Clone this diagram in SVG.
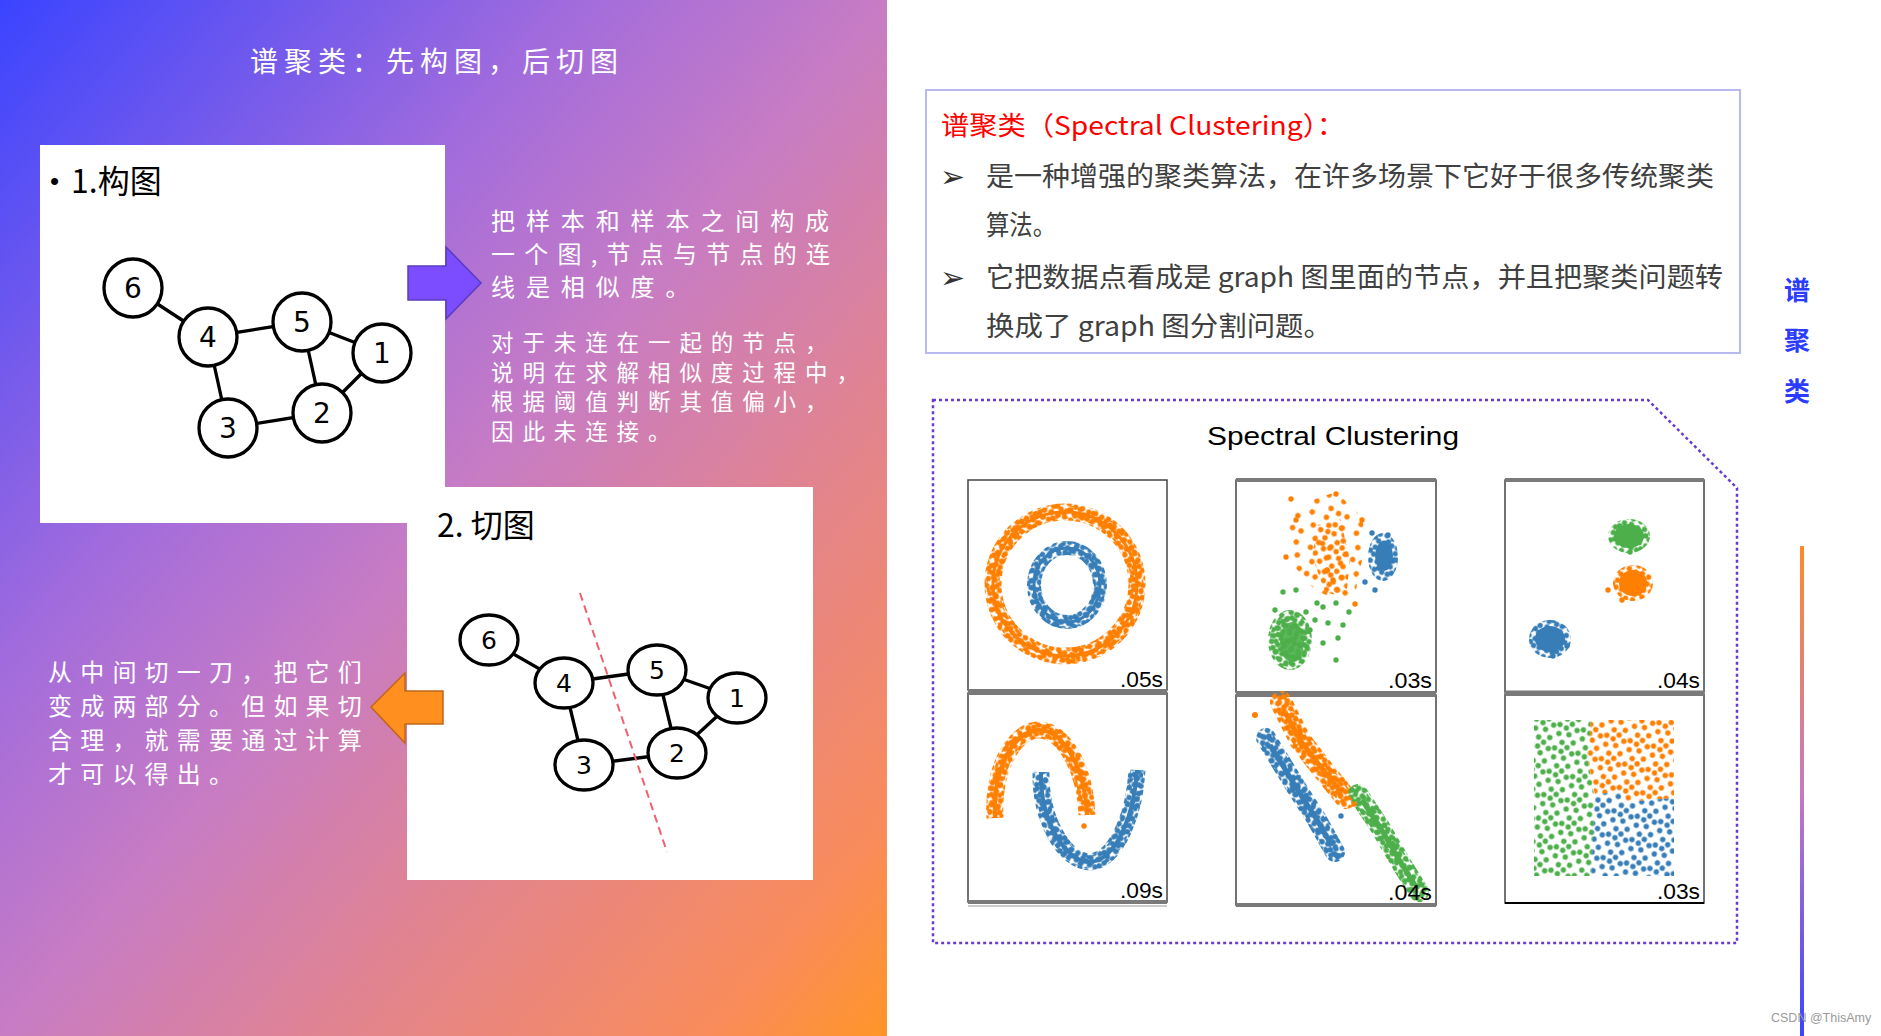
<svg xmlns="http://www.w3.org/2000/svg" width="1881" height="1036" viewBox="0 0 1881 1036">
<defs>
<style>
.cjk{font-family:'Noto Sans CJK SC',sans-serif}
.wt{fill:#fff;font-family:'Noto Sans CJK SC',sans-serif;font-size:24px}
.edge{stroke:#000;stroke-width:3.3;fill:none}
.nc{fill:#fff;stroke:#000;stroke-width:3.3}
.nt{font-family:'DejaVu Sans',sans-serif;text-anchor:middle;fill:#000}
.rt{font-family:'Noto Sans CJK SC',sans-serif;font-size:27px;fill:#404040}
.pb{fill:#fff;stroke:#444;stroke-width:1.5}
.gl{stroke:#7a7a7a;stroke-width:4}
.tm{font-family:'Liberation Sans',sans-serif;font-size:22px;fill:#000}
.o{fill:#ff7f00}.b{fill:#377eb8}.g{fill:#4daf4a}
.so{stroke:#ff7f00;fill:none}.sb{stroke:#377eb8;fill:none}.sg{stroke:#4daf4a;fill:none}
</style>
<linearGradient id="bg" x1="0" y1="0" x2="1" y2="1">
<stop offset="0" stop-color="#3a44ff"/>
<stop offset="0.33" stop-color="#a36cdc"/>
<stop offset="0.5" stop-color="#c77cc4"/>
<stop offset="0.7" stop-color="#e3848c"/>
<stop offset="0.9" stop-color="#f98c5a"/>
<stop offset="1" stop-color="#ff9528"/>
</linearGradient>
<linearGradient id="vl" x1="0" y1="0" x2="0" y2="1">
<stop offset="0" stop-color="#ff8a2a"/>
<stop offset="0.5" stop-color="#c57ac0"/>
<stop offset="1" stop-color="#3a44ff"/>
</linearGradient>
<pattern id="pD" width="14" height="14" patternUnits="userSpaceOnUse" patternTransform="rotate(21)">
<g fill="#fff"><circle cx="3" cy="3" r="2.7"/><circle cx="10" cy="4" r="2.7"/><circle cx="6.5" cy="8.5" r="2.7"/><circle cx="3" cy="11" r="2.7"/><circle cx="11" cy="11" r="2.7"/></g>
</pattern>
<pattern id="pD2" width="17" height="17" patternUnits="userSpaceOnUse" patternTransform="rotate(-37)">
<g fill="#fff"><circle cx="4" cy="5" r="2.7"/><circle cx="12" cy="3" r="2.7"/><circle cx="8.5" cy="11" r="2.7"/><circle cx="14" cy="13" r="2.7"/><circle cx="3" cy="14" r="2.7"/></g>
</pattern>
<pattern id="pM" width="24" height="24" patternUnits="userSpaceOnUse" patternTransform="rotate(13)">
<g fill="#fff"><circle cx="4" cy="4" r="2.7"/><circle cx="14" cy="3" r="2.7"/><circle cx="20" cy="10" r="2.7"/><circle cx="9" cy="12" r="2.7"/><circle cx="3" cy="19" r="2.7"/><circle cx="15" cy="16" r="2.7"/><circle cx="21" cy="21" r="2.7"/><circle cx="10" cy="21" r="2.7"/></g>
</pattern>
<pattern id="pS" width="34" height="34" patternUnits="userSpaceOnUse" patternTransform="rotate(28)">
<g fill="#fff"><circle cx="5" cy="6" r="2.7"/><circle cx="20" cy="4" r="2.7"/><circle cx="28" cy="16" r="2.7"/><circle cx="12" cy="17" r="2.7"/><circle cx="4" cy="28" r="2.7"/><circle cx="20" cy="28" r="2.7"/><circle cx="29" cy="29" r="2.7"/></g>
</pattern>
<mask id="mD" maskUnits="userSpaceOnUse" x="0" y="0" width="1881" height="1036"><rect width="1881" height="1036" fill="url(#pD)"/></mask>
<mask id="mD2" maskUnits="userSpaceOnUse" x="0" y="0" width="1881" height="1036"><rect width="1881" height="1036" fill="url(#pD2)"/></mask>
<mask id="mM" maskUnits="userSpaceOnUse" x="0" y="0" width="1881" height="1036"><rect width="1881" height="1036" fill="url(#pM)"/></mask>
<mask id="mS" maskUnits="userSpaceOnUse" x="0" y="0" width="1881" height="1036"><rect width="1881" height="1036" fill="url(#pS)"/></mask>
</defs>

<!-- backgrounds -->
<rect width="1881" height="1036" fill="#fff"/>
<rect x="0" y="0" width="887" height="1036" fill="url(#bg)"/>

<g id="title">
<text class="wt" x="250" y="72" style="font-size:28px" letter-spacing="6">谱聚类：先构图，后切图</text>
</g>

<!-- box 1 -->
<g id="box1">
<rect x="40" y="145" width="405" height="378" fill="#fff"/>
<text x="50" y="190" font-family="'Liberation Sans',sans-serif" font-size="26" fill="#000">•</text>
<text class="cjk" x="71" y="193" font-size="32" fill="#000">1.构图</text>
</g>

<!-- box 2 -->
<g id="box2">
<rect x="407" y="487" width="406" height="393" fill="#fff"/>
<text class="cjk" x="437" y="537" font-size="32" fill="#000">2. 切图</text>
</g>

<!-- connectors -->
<g id="connectors">
<g id="edges1">
<line class="edge" x1="133" y1="288" x2="208" y2="337"/>
<line class="edge" x1="208" y1="337" x2="302" y2="322"/>
<line class="edge" x1="302" y1="322" x2="382" y2="353"/>
<line class="edge" x1="302" y1="322" x2="322" y2="413"/>
<line class="edge" x1="382" y1="353" x2="322" y2="413"/>
<line class="edge" x1="208" y1="337" x2="228" y2="428"/>
<line class="edge" x1="228" y1="428" x2="322" y2="413"/>
</g>
<g id="edges2">
<line class="edge" x1="489" y1="640" x2="564" y2="683"/>
<line class="edge" x1="564" y1="683" x2="657" y2="670"/>
<line class="edge" x1="657" y1="670" x2="737" y2="698"/>
<line class="edge" x1="657" y1="670" x2="677" y2="753"/>
<line class="edge" x1="737" y1="698" x2="677" y2="753"/>
<line class="edge" x1="564" y1="683" x2="584" y2="765"/>
<line class="edge" x1="584" y1="765" x2="677" y2="753"/>
</g>
<line id="cut" x1="580" y1="593" x2="667" y2="852" stroke="#f06070" stroke-width="2" stroke-dasharray="8 5"/>
<polygon id="arrow-right" points="408,266 446,266 446,247 481,283 446,319 446,300 408,300" fill="#7c4dff" stroke="#5a3bc0" stroke-width="1.5"/>
<polygon id="arrow-left" points="371,707 405,673 405,691 443,691 443,724 405,724 405,743" fill="#ff9020" stroke="#c0651a" stroke-width="1.5"/>
</g>

<!-- graph 1 nodes -->
<g id="g1-n6"><circle class="nc" cx="133" cy="288" r="29"/><text class="nt" x="133" y="298" font-size="28">6</text></g>
<g id="g1-n4"><circle class="nc" cx="208" cy="337" r="29"/><text class="nt" x="208" y="347" font-size="28">4</text></g>
<g id="g1-n5"><circle class="nc" cx="302" cy="322" r="29"/><text class="nt" x="302" y="332" font-size="28">5</text></g>
<g id="g1-n1"><circle class="nc" cx="382" cy="353" r="29"/><text class="nt" x="382" y="363" font-size="28">1</text></g>
<g id="g1-n2"><circle class="nc" cx="322" cy="413" r="29"/><text class="nt" x="322" y="423" font-size="28">2</text></g>
<g id="g1-n3"><circle class="nc" cx="228" cy="428" r="29"/><text class="nt" x="228" y="438" font-size="28">3</text></g>

<!-- graph 2 nodes -->
<g id="g2-n6"><ellipse class="nc" cx="489" cy="640" rx="29" ry="25"/><text class="nt" x="489" y="649" font-size="25">6</text></g>
<g id="g2-n4"><ellipse class="nc" cx="564" cy="683" rx="29" ry="25"/><text class="nt" x="564" y="692" font-size="25">4</text></g>
<g id="g2-n5"><ellipse class="nc" cx="657" cy="670" rx="29" ry="25"/><text class="nt" x="657" y="679" font-size="25">5</text></g>
<g id="g2-n1"><ellipse class="nc" cx="737" cy="698" rx="29" ry="25"/><text class="nt" x="737" y="707" font-size="25">1</text></g>
<g id="g2-n2"><ellipse class="nc" cx="677" cy="753" rx="29" ry="25"/><text class="nt" x="677" y="762" font-size="25">2</text></g>
<g id="g2-n3"><ellipse class="nc" cx="584" cy="765" rx="29" ry="25"/><text class="nt" x="584" y="774" font-size="25">3</text></g>

<!-- left texts -->
<g id="text-build">
<text class="wt" x="491" y="230" letter-spacing="10.9">把样本和样本之间构成</text>
<text class="wt" x="491" y="263" textLength="339" lengthAdjust="spacing">一个图,节点与节点的连</text>
<text class="wt" x="491" y="296" letter-spacing="10.9">线是相似度。</text>
<text class="wt" x="491" y="351" letter-spacing="8.9" style="font-size:22.5px">对于未连在一起的节点，</text>
<text class="wt" x="491" y="381" letter-spacing="8.9" style="font-size:22.5px">说明在求解相似度过程中，</text>
<text class="wt" x="491" y="410" letter-spacing="8.9" style="font-size:22.5px">根据阈值判断其值偏小，</text>
<text class="wt" x="491" y="440" letter-spacing="8.9" style="font-size:22.5px">因此未连接。</text>
</g>
<g id="text-cut">
<text class="wt" x="48" y="681" letter-spacing="8.2">从中间切一刀，把它们</text>
<text class="wt" x="48" y="715" letter-spacing="8.2">变成两部分。但如果切</text>
<text class="wt" x="48" y="749" letter-spacing="8.2">合理，就需要通过计算</text>
<text class="wt" x="48" y="783" letter-spacing="8.2">才可以得出。</text>
</g>

<!-- right top box -->
<g id="def-box">
<rect x="926" y="90" width="814" height="263" fill="#fff" stroke="#b8b8f2" stroke-width="2"/>
<text x="941" y="135" font-family="'Noto Sans CJK SC',sans-serif" font-size="26" fill="#ff0000" textLength="404" lengthAdjust="spacingAndGlyphs">谱聚类（Spectral Clustering）：</text>
<text x="940" y="187" font-family="'DejaVu Sans',sans-serif" font-size="30" fill="#333">➢</text>
<text x="940" y="288" font-family="'DejaVu Sans',sans-serif" font-size="30" fill="#333">➢</text>
<text class="rt" x="986" y="186" textLength="728" lengthAdjust="spacingAndGlyphs">是一种增强的聚类算法，在许多场景下它好于很多传统聚类</text>
<text class="rt" x="986" y="235" textLength="70" lengthAdjust="spacingAndGlyphs">算法。</text>
<text class="rt" x="986" y="287" textLength="737" lengthAdjust="spacingAndGlyphs">它把数据点看成是 graph 图里面的节点，并且把聚类问题转</text>
<text class="rt" x="986" y="336" textLength="346" lengthAdjust="spacingAndGlyphs">换成了 graph 图分割问题。</text>
</g>

<!-- dotted frame -->
<g id="sc-frame">
<path d="M933 400 L1648 400 L1737 488 L1737 943 L933 943 Z" fill="none" stroke="#6a3ad0" stroke-width="2.5" stroke-dasharray="3 3"/>
<text x="1207" y="445" font-family="'Liberation Sans',sans-serif" font-size="26" fill="#000" textLength="252" lengthAdjust="spacingAndGlyphs">Spectral Clustering</text>
</g>

<!-- plots -->
<g id="plot1">
<rect class="pb" x="968" y="480" width="199" height="210"/>
<line class="gl" x1="968" y1="691" x2="1167" y2="691"/>
<g mask="url(#mD)"><circle class="so" cx="1065" cy="584" r="72" stroke-width="17"/><ellipse class="sb" cx="1067" cy="585" rx="33" ry="37" stroke-width="14"/></g>
<g mask="url(#mD2)"><circle class="so" cx="1065" cy="584" r="72" stroke-width="13"/><ellipse class="sb" cx="1067" cy="585" rx="33" ry="37" stroke-width="12"/></g>
<circle class="so" cx="1065" cy="584" r="72" stroke-width="3"/>
<ellipse class="sb" cx="1067" cy="585" rx="33" ry="37" stroke-width="3"/>
<text class="tm" x="1120" y="687" textLength="43" lengthAdjust="spacingAndGlyphs">.05s</text>
</g>

<g id="plot2">
<rect class="pb" x="1236" y="480" width="200" height="212"/>
<line class="gl" x1="1236" y1="480" x2="1436" y2="480"/>
<line class="gl" x1="1236" y1="693" x2="1436" y2="693"/>
<polygon mask="url(#mS)" class="o" points="1291,507 1336,492 1362,517 1366,543 1358,578 1354,604 1333,598 1315,590 1286,557 1288,527"/>
<polygon mask="url(#mM)" class="o" points="1318,525 1340,518 1350,560 1346,598 1325,592 1312,556"/>
<g class="o"><circle cx="1291" cy="499" r="2.7"/><circle cx="1336" cy="494" r="2.7"/><circle cx="1286" cy="557" r="2.7"/><circle cx="1296" cy="520" r="2.7"/><circle cx="1355" cy="604" r="2.7"/><circle cx="1362" cy="520" r="2.7"/><circle cx="1327" cy="570" r="2.7"/><circle cx="1333" cy="580" r="2.7"/></g>
<g mask="url(#mD)"><ellipse class="b" cx="1383" cy="557" rx="15" ry="24"/></g>
<ellipse class="b" cx="1384" cy="556" rx="9" ry="15"/>
<g class="b"><circle cx="1375" cy="590" r="2.7"/><circle cx="1365" cy="582" r="2.7"/><circle cx="1372" cy="533" r="2.7"/><circle cx="1388" cy="535" r="2.7"/><circle cx="1394" cy="560" r="2.7"/></g>
<g mask="url(#mD)"><ellipse class="g" cx="1290" cy="640" rx="22" ry="30"/></g>
<g mask="url(#mD2)"><ellipse class="g" cx="1290" cy="640" rx="20" ry="27"/></g>
<ellipse class="g" cx="1292" cy="642" rx="12" ry="20" opacity="0.9"/>
<g class="g"><circle cx="1283" cy="592" r="2.7"/><circle cx="1296" cy="590" r="2.7"/><circle cx="1317" cy="603" r="2.7"/><circle cx="1336" cy="603" r="2.7"/><circle cx="1349" cy="612" r="2.7"/><circle cx="1338" cy="638" r="2.7"/><circle cx="1323" cy="643" r="2.7"/><circle cx="1336" cy="660" r="2.7"/><circle cx="1328" cy="623" r="2.7"/><circle cx="1315" cy="620" r="2.7"/><circle cx="1323" cy="607" r="2.7"/><circle cx="1306" cy="612" r="2.7"/><circle cx="1343" cy="625" r="2.7"/><circle cx="1310" cy="630" r="2.7"/><circle cx="1275" cy="610" r="2.7"/></g>
<text class="tm" x="1388" y="688" textLength="44" lengthAdjust="spacingAndGlyphs">.03s</text>
</g>

<g id="plot3">
<rect class="pb" x="1505" y="480" width="199" height="212"/>
<line class="gl" x1="1505" y1="480" x2="1704" y2="480"/>
<line class="gl" x1="1505" y1="692.5" x2="1704" y2="692.5"/>
<g mask="url(#mD)"><ellipse class="g" cx="1629" cy="536" rx="21" ry="17"/><ellipse class="o" cx="1633" cy="583" rx="20" ry="18"/><ellipse class="b" cx="1550" cy="639" rx="21" ry="19"/></g>
<ellipse class="g" cx="1629" cy="536" rx="15" ry="12"/>
<ellipse class="o" cx="1633" cy="583" rx="14" ry="13"/>
<ellipse class="b" cx="1550" cy="639" rx="15" ry="13"/>
<circle class="o" cx="1608" cy="590" r="2.7"/><circle class="o" cx="1622" cy="600" r="2.7"/><circle class="b" cx="1567" cy="646" r="2.7"/><circle class="b" cx="1553" cy="656" r="2.7"/><circle class="g" cx="1630" cy="552" r="2.7"/>
<text class="tm" x="1657" y="688" textLength="43" lengthAdjust="spacingAndGlyphs">.04s</text>
</g>

<g id="plot4">
<rect class="pb" x="968" y="693" width="199" height="209"/>
<line class="gl" x1="968" y1="693" x2="1167" y2="693"/>
<line class="gl" x1="968" y1="902" x2="1167" y2="902"/>
<line x1="968" y1="906" x2="1167" y2="906" stroke="#999" stroke-width="1"/>
<g mask="url(#mD)"><path class="so" d="M995 818 C992 760 1020 728 1040 730 C1062 731 1085 765 1087 815" stroke-width="17"/><path class="sb" d="M1041 772 C1040 820 1065 862 1090 862 C1118 860 1135 810 1137 770" stroke-width="17"/></g>
<g mask="url(#mD2)"><path class="so" d="M995 818 C992 760 1020 728 1040 730 C1062 731 1085 765 1087 815" stroke-width="13"/><path class="sb" d="M1041 772 C1040 820 1065 862 1090 862 C1118 860 1135 810 1137 770" stroke-width="13"/></g>
<path class="so" d="M995 818 C992 760 1020 728 1040 730 C1062 731 1085 765 1087 815" stroke-width="4"/>
<path class="sb" d="M1041 772 C1040 820 1065 862 1090 862 C1118 860 1135 810 1137 770" stroke-width="4"/>
<circle class="o" cx="1084" cy="826" r="2.7"/>
<text class="tm" x="1120" y="898" textLength="43" lengthAdjust="spacingAndGlyphs">.09s</text>
</g>

<g id="plot5">
<rect class="pb" x="1236" y="695" width="200" height="210"/>
<line class="gl" x1="1236" y1="695" x2="1436" y2="695"/>
<line class="gl" x1="1236" y1="905" x2="1436" y2="905"/>
<g mask="url(#mD)"><path class="so" d="M1281 702 L1300 740 L1320 766 L1346 798" stroke-width="22" stroke-linecap="round"/><path class="sb" d="M1266 738 L1296 787 L1317 820 L1335 852" stroke-width="20" stroke-linecap="round"/><path class="sg" d="M1358 794 L1380 827 L1401 863 L1419 892" stroke-width="20" stroke-linecap="round"/></g>
<g mask="url(#mD2)"><path class="so" d="M1281 702 L1300 740 L1320 766 L1346 798" stroke-width="16" stroke-linecap="round"/><path class="sb" d="M1266 738 L1296 787 L1317 820 L1335 852" stroke-width="16" stroke-linecap="round"/><path class="sg" d="M1358 794 L1380 827 L1401 863 L1419 892" stroke-width="16" stroke-linecap="round"/></g>
<path class="so" d="M1285 712 L1300 740 L1320 766 L1342 793" stroke-width="5"/>
<path class="sb" d="M1270 745 L1296 787 L1317 820 L1332 846" stroke-width="5"/>
<path class="sg" d="M1362 800 L1380 827 L1401 863 L1415 885" stroke-width="5"/>
<circle class="o" cx="1255" cy="715" r="3"/><circle class="o" cx="1354" cy="804" r="2.7"/><circle class="b" cx="1341" cy="816" r="2.7"/><circle class="b" cx="1336" cy="855" r="2.7"/><circle class="g" cx="1352" cy="790" r="2.7"/>
<text class="tm" x="1388" y="900" textLength="44" lengthAdjust="spacingAndGlyphs">.04s</text>
</g>

<g id="plot6">
<rect class="pb" x="1505" y="694" width="199" height="209"/>
<line class="gl" x1="1505" y1="694" x2="1704" y2="694"/>
<line x1="1505" y1="903" x2="1704" y2="903" stroke="#000" stroke-width="2"/>
<g mask="url(#mM)">
<polygon class="g" points="1534,720 1591,720 1588,760 1595,800 1591,876 1534,876"/>
<polygon class="o" points="1591,720 1674,720 1674,798 1627,802 1622,790 1595,795 1588,760"/>
<polygon class="b" points="1595,795 1622,790 1627,802 1674,798 1674,876 1591,876"/>
</g>
<text class="tm" x="1657" y="899" textLength="43" lengthAdjust="spacingAndGlyphs">.03s</text>
</g>

<!-- side label -->
<g id="side">
<text x="1797" y="300" font-family="'Noto Sans CJK SC',sans-serif" font-weight="bold" font-size="26" fill="#2b3cff" text-anchor="middle">谱</text>
<text x="1797" y="350" font-family="'Noto Sans CJK SC',sans-serif" font-weight="bold" font-size="26" fill="#2b3cff" text-anchor="middle">聚</text>
<text x="1797" y="401" font-family="'Noto Sans CJK SC',sans-serif" font-weight="bold" font-size="26" fill="#2b3cff" text-anchor="middle">类</text>
<rect x="1800" y="546" width="4" height="490" fill="url(#vl)"/>
<text x="1771" y="1022" font-family="'Liberation Sans',sans-serif" font-size="12.5" fill="#9a9a9a">CSDN @ThisAmy</text>
</g>
</svg>
